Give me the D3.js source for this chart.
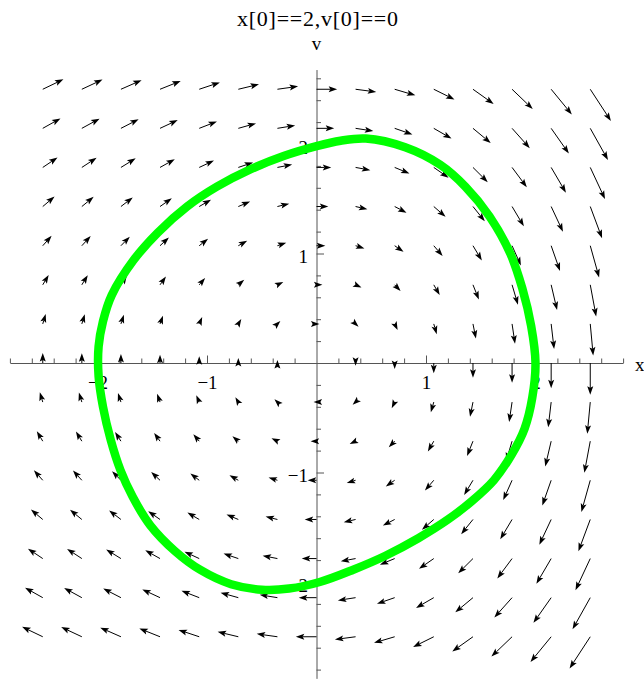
<!DOCTYPE html>
<html>
<head>
<meta charset="utf-8">
<script src="https://cdn.jsdelivr.net/npm/d3@7"></script>
<style>
  html, body { margin: 0; padding: 0; background: #fff; }
  svg { display: block; }
  text { font-family: "Liberation Serif", "Times New Roman", serif; fill: #000; }
</style>
</head>
<body>
<svg id="chart" width="644" height="681"></svg>
<script>
// Phase-plane grid: sample positions along each axis
const gridX = [-2.5, -2.143, -1.786, -1.429, -1.071, -0.714, -0.357, 0, 0.357, 0.714, 1.071, 1.429, 1.786, 2.143, 2.5];
const gridV = [-2.5, -2.143, -1.786, -1.429, -1.071, -0.714, -0.357, 0, 0.357, 0.714, 1.071, 1.429, 1.786, 2.143, 2.5];
// dv/dt for each grid column (x' equals v at each row)
const accel = [1.2, 1.17, 1.1, 1.0, 0.83, 0.6, 0.35, 0, -0.33, -0.74, -1.24, -1.78, -2.4, -3.05, -3.83];

// Trajectory from x(0)=2, v(0)=0
const orbitX = [2.00, 1.97, 1.90, 1.78, 1.62, 1.42, 1.20, 0.93, 0.63, 0.33, 0.03, -0.25, -0.50, -0.78, -1.06, -1.29, -1.52, -1.68, -1.79, -1.88, -1.95, -1.99, -1.99, -1.95, -1.87, -1.67, -1.45, -1.18, -0.91, -0.60, -0.30, 0.00, 0.22, 0.45, 0.81, 1.13, 1.36, 1.58, 1.77, 1.88, 1.96];
const orbitV = [0.00, -0.32, -0.60, -0.84, -1.07, -1.26, -1.43, -1.60, -1.76, -1.89, -2.00, -2.06, -2.07, -2.02, -1.89, -1.72, -1.48, -1.22, -0.98, -0.70, -0.40, -0.12, 0.15, 0.38, 0.62, 0.94, 1.19, 1.43, 1.61, 1.77, 1.89, 1.98, 2.03, 2.05, 1.97, 1.81, 1.61, 1.34, 1.00, 0.68, 0.34];

const xMajor = [-2, -1, 1, 2];
const vMajor = [-2, -1, 1, 2];
const titleText = "x[0]==2,v[0]==0";

const svg = d3.select("#chart");
const unit = 109.5, ox = 316.5, oy = 363;
const xDom = [-2.8, 2.8], vDom = [-2.88, 2.68];
const xScale = d3.scaleLinear().domain(xDom).range([ox + xDom[0] * unit, ox + xDom[1] * unit]);
const vScale = d3.scaleLinear().domain(vDom).range([oy - vDom[0] * unit, oy - vDom[1] * unit]);

const axisColor = "#555";
const fmt = d3.format("d");
const minorX = d3.range(-14, 15).map(i => i / 5).filter(t => Math.abs(t - Math.round(t)) > 1e-9);
const minorV = d3.range(-14, 14).map(i => i / 5).filter(t => Math.abs(t - Math.round(t)) > 1e-9);

const labelStyle = sel => sel.style("font-size", "19px").style("font-family", "'Liberation Serif', serif").style("fill", "#000");

// Horizontal axis: ticks point upward, labels below
const gx = svg.append("g").attr("transform", `translate(0,${vScale(0)})`);
gx.append("g").call(d3.axisTop(xScale).tickValues(minorX).tickSize(4.5).tickSizeOuter(0).tickFormat(""));
gx.append("g").call(d3.axisTop(xScale).tickValues(xMajor).tickSize(7.5).tickSizeOuter(0).tickFormat(""))
  .select(".domain").remove();
const gxl = gx.append("g").call(d3.axisBottom(xScale).tickValues(xMajor).tickSize(0).tickPadding(13).tickFormat(fmt));
gxl.select(".domain").remove();
gxl.selectAll(".tick text").call(labelStyle);

// Vertical axis: ticks point right, labels on the left
const gv = svg.append("g").attr("transform", `translate(${xScale(0)},0)`);
gv.append("g").call(d3.axisRight(vScale).tickValues(minorV).tickSize(4.5).tickSizeOuter(0).tickFormat(""));
gv.append("g").call(d3.axisRight(vScale).tickValues(vMajor).tickSize(7.5).tickSizeOuter(0).tickFormat(""))
  .select(".domain").remove();
const gvl = gv.append("g").call(d3.axisLeft(vScale).tickValues(vMajor).tickSize(0).tickPadding(8.5).tickFormat(fmt));
gvl.select(".domain").remove();
gvl.selectAll(".tick text").call(labelStyle).attr("dy", "0.48em");

svg.selectAll(".domain, .tick line").attr("stroke", axisColor).attr("stroke-width", 1);

// Axis names and title
svg.append("text").attr("x", 635).attr("y", 371).style("font-size", "19px").text("x");
svg.append("text").attr("x", xScale(0)).attr("y", 50).attr("text-anchor", "middle").style("font-size", "19px").text("v");
svg.append("text").attr("x", 317.5).attr("y", 26).attr("text-anchor", "middle").style("font-size", "22px")
  .attr("textLength", 161).attr("lengthAdjust", "spacing").text(titleText);

// Vector field arrows
const arrowScale = 0.0755;   // field units -> plot units
const headLen = 8.5, headHalf = 3, notch = 0.8;
const arrows = [];
gridX.forEach((x, i) => {
  gridV.forEach(v => {
    const dx = v, dv = accel[i];
    if (Math.hypot(dx, dv) < 1e-9) return;
    arrows.push({ x0: x, v0: v, x1: x + arrowScale * dx, v1: v + arrowScale * dv });
  });
});
const ga = svg.append("g");
arrows.forEach(a => {
  const px0 = xScale(a.x0), py0 = vScale(a.v0), px1 = xScale(a.x1), py1 = vScale(a.v1);
  const L = Math.hypot(px1 - px0, py1 - py0);
  const ux = (px1 - px0) / L, uy = (py1 - py0) / L;
  const bx = px1 - ux * headLen, by = py1 - uy * headLen;
  const nx = px1 - ux * headLen * notch, ny = py1 - uy * headLen * notch;
  if (L > headLen * notch) {
    ga.append("line").attr("x1", px0).attr("y1", py0).attr("x2", nx).attr("y2", ny)
      .attr("stroke", "#000").attr("stroke-width", 1);
  }
  const pts = [[px1, py1], [bx - uy * headHalf, by + ux * headHalf], [nx, ny], [bx + uy * headHalf, by - ux * headHalf]];
  ga.append("path").attr("d", "M" + pts.map(p => p.join(",")).join("L") + "Z").attr("fill", "#000");
});

// Trajectory
const orbit = orbitX.map((x, i) => [x, orbitV[i]]);
svg.append("path")
  .datum(orbit)
  .attr("d", d3.line().x(d => xScale(d[0])).y(d => vScale(d[1])).curve(d3.curveCatmullRomClosed.alpha(0.5)))
  .attr("fill", "none").attr("stroke", "#00ff00").attr("stroke-width", 8.5).attr("stroke-linejoin", "round");
</script>
</body>
</html>
